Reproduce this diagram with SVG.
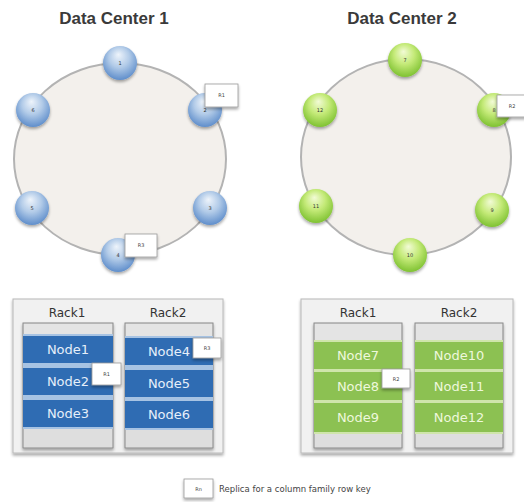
<svg xmlns="http://www.w3.org/2000/svg" width="524" height="502" viewBox="0 0 524 502">
<defs>
<radialGradient id="gBlue" cx="0.5" cy="0.4" r="0.6" fx="0.45" fy="0.25">
<stop offset="0" stop-color="#eef4fb"/>
<stop offset="0.5" stop-color="#b2cbe8"/>
<stop offset="1" stop-color="#5f8ecb"/>
</radialGradient>
<radialGradient id="gGreen" cx="0.5" cy="0.4" r="0.6" fx="0.45" fy="0.25">
<stop offset="0" stop-color="#f2fbd6"/>
<stop offset="0.5" stop-color="#c4ea78"/>
<stop offset="1" stop-color="#7fc232"/>
</radialGradient>
<filter id="sh" x="-30%" y="-30%" width="160%" height="160%">
<feGaussianBlur in="SourceAlpha" stdDeviation="1.5"/>
<feOffset dx="0" dy="1.5"/>
<feComponentTransfer><feFuncA type="linear" slope="0.35"/></feComponentTransfer>
<feMerge><feMergeNode/><feMergeNode in="SourceGraphic"/></feMerge>
</filter>
</defs>
<style>
.title{font-family:"Liberation Sans",Arial,sans-serif;font-size:17px;font-weight:bold;fill:#3a3a3a;text-anchor:middle}
.ring{fill:#f3f0ec;stroke:#b3b3b3;stroke-width:2}
.bn{fill:url(#gBlue);filter:url(#sh)}
.gn{fill:url(#gGreen);filter:url(#sh)}
.num{font-family:"DejaVu Sans",sans-serif;font-size:5px;fill:#333;text-anchor:middle}
.rep{fill:#ffffff;stroke:#9a9a9a;stroke-width:0.8;filter:url(#sh)}
.rept{font-family:"DejaVu Sans",sans-serif;font-size:5px;fill:#444;text-anchor:middle}
.panel{fill:#f1f1f1;stroke:#b8b8b8;stroke-width:1;filter:url(#sh)}
.rack{fill:#dedede;stroke:#8a8a8a;stroke-width:1;filter:url(#sh)}
.racklbl{font-family:"DejaVu Sans",sans-serif;font-size:12px;fill:#333;text-anchor:middle}
.top{fill:#e4e4e4}
.bband{fill:#2f6cb3}
.bsep{fill:#a7c3e3}
.gband{fill:#8cc152}
.gsep{fill:#cfe5ab}
.bt{font-family:"DejaVu Sans",sans-serif;font-size:13px;fill:#e6effa;text-anchor:middle}
.gt{font-family:"DejaVu Sans",sans-serif;font-size:13px;fill:#eef8dc;text-anchor:middle}
.legend{font-family:"DejaVu Sans",sans-serif;font-size:8.5px;fill:#444}
</style>

<text class="title" x="114" y="24">Data Center 1</text>
<text class="title" x="402" y="24">Data Center 2</text>

<g id="connectors">
<ellipse class="ring" cx="120" cy="159" rx="106" ry="96"/>
<ellipse class="ring" cx="406" cy="157" rx="105" ry="98"/>
</g>

<g id="dc1-node1"><circle class="bn" cx="120" cy="63" r="17"/><text class="num" x="120" y="65">1</text></g>
<g id="dc1-node2"><circle class="bn" cx="205" cy="110" r="17"/><text class="num" x="205" y="112">2</text></g>
<g id="dc1-node3"><circle class="bn" cx="210" cy="208" r="17"/><text class="num" x="210" y="210">3</text></g>
<g id="dc1-node4"><circle class="bn" cx="118" cy="255" r="17"/><text class="num" x="118" y="257">4</text></g>
<g id="dc1-node5"><circle class="bn" cx="32" cy="208" r="17"/><text class="num" x="32" y="210">5</text></g>
<g id="dc1-node6"><circle class="bn" cx="33" cy="110" r="17"/><text class="num" x="33" y="112">6</text></g>

<g id="dc2-node7"><circle class="gn" cx="405" cy="60" r="17"/><text class="num" x="405" y="62">7</text></g>
<g id="dc2-node8"><circle class="gn" cx="494" cy="110" r="17"/><text class="num" x="494" y="112">8</text></g>
<g id="dc2-node9"><circle class="gn" cx="492" cy="210" r="17"/><text class="num" x="492" y="212">9</text></g>
<g id="dc2-node10"><circle class="gn" cx="410" cy="255" r="17"/><text class="num" x="410" y="257">10</text></g>
<g id="dc2-node11"><circle class="gn" cx="316" cy="206" r="17"/><text class="num" x="316" y="208">11</text></g>
<g id="dc2-node12"><circle class="gn" cx="320" cy="110" r="17"/><text class="num" x="320" y="112">12</text></g>

<g id="ring-r1"><rect class="rep" x="205" y="84" width="33" height="23"/><text class="rept" x="221.5" y="97">R1</text></g>
<g id="ring-r3"><rect class="rep" x="125" y="234" width="32" height="23"/><text class="rept" x="141" y="247">R3</text></g>
<g id="ring-r2"><rect class="rep" x="497" y="95" width="30" height="22"/><text class="rept" x="512" y="108">R2</text></g>

<g id="dc1-racks">
<rect class="panel" x="13" y="299" width="210" height="154"/>
<text class="racklbl" x="67" y="317">Rack1</text>
<text class="racklbl" x="168" y="317">Rack2</text>
<g id="dc1-rack1">
<rect class="rack" x="23" y="323" width="90" height="125"/>
<rect class="top" x="24" y="324" width="88" height="10"/>
<rect class="bsep" x="23" y="334" width="90" height="2"/>
<g id="rack-node1"><rect class="bband" x="23" y="336" width="90" height="27"/><text class="bt" x="68" y="354">Node1</text></g>
<rect class="bsep" x="23" y="363" width="90" height="5"/>
<g id="rack-node2"><rect class="bband" x="23" y="368" width="90" height="27"/><text class="bt" x="68" y="386">Node2</text></g>
<rect class="bsep" x="23" y="395" width="90" height="5"/>
<g id="rack-node3"><rect class="bband" x="23" y="400" width="90" height="27"/><text class="bt" x="68" y="418">Node3</text></g>
<rect class="bsep" x="23" y="427" width="90" height="2"/>
</g>
<g id="dc1-rack2">
<rect class="rack" x="125" y="323" width="88" height="125"/>
<rect class="top" x="126" y="324" width="86" height="12"/>
<rect class="bsep" x="125" y="336" width="88" height="2"/>
<g id="rack-node4"><rect class="bband" x="125" y="338" width="88" height="27"/><text class="bt" x="169" y="356">Node4</text></g>
<rect class="bsep" x="125" y="365" width="88" height="5"/>
<g id="rack-node5"><rect class="bband" x="125" y="370" width="88" height="27"/><text class="bt" x="169" y="388">Node5</text></g>
<rect class="bsep" x="125" y="397" width="88" height="4"/>
<g id="rack-node6"><rect class="bband" x="125" y="401" width="88" height="27"/><text class="bt" x="169" y="419">Node6</text></g>
<rect class="bsep" x="125" y="428" width="88" height="2"/>
</g>
<g id="rack-r1"><rect class="rep" x="92" y="363" width="29" height="22"/><text class="rept" x="106.5" y="376">R1</text></g>
<g id="rack-r3"><rect class="rep" x="193" y="338" width="28" height="20"/><text class="rept" x="207" y="350">R3</text></g>
</g>

<g id="dc2-racks">
<rect class="panel" x="301" y="299" width="212" height="154"/>
<text class="racklbl" x="358" y="317">Rack1</text>
<text class="racklbl" x="459" y="317">Rack2</text>
<g id="dc2-rack1">
<rect class="rack" x="314" y="323" width="88" height="125"/>
<rect class="top" x="315" y="324" width="86" height="16"/>
<rect class="gsep" x="314" y="340" width="88" height="2"/>
<g id="rack-node7"><rect class="gband" x="314" y="342" width="88" height="27"/><text class="gt" x="358" y="360">Node7</text></g>
<rect class="gsep" x="314" y="369" width="88" height="3"/>
<g id="rack-node8"><rect class="gband" x="314" y="372" width="88" height="28"/><text class="gt" x="358" y="391">Node8</text></g>
<rect class="gsep" x="314" y="400" width="88" height="3"/>
<g id="rack-node9"><rect class="gband" x="314" y="403" width="88" height="29"/><text class="gt" x="358" y="422">Node9</text></g>
<rect class="gsep" x="314" y="432" width="88" height="2"/>
</g>
<g id="dc2-rack2">
<rect class="rack" x="415" y="323" width="88" height="125"/>
<rect class="top" x="416" y="324" width="86" height="16"/>
<rect class="gsep" x="415" y="340" width="88" height="2"/>
<g id="rack-node10"><rect class="gband" x="415" y="342" width="88" height="27"/><text class="gt" x="459" y="360">Node10</text></g>
<rect class="gsep" x="415" y="369" width="88" height="3"/>
<g id="rack-node11"><rect class="gband" x="415" y="372" width="88" height="28"/><text class="gt" x="459" y="391">Node11</text></g>
<rect class="gsep" x="415" y="400" width="88" height="3"/>
<g id="rack-node12"><rect class="gband" x="415" y="403" width="88" height="29"/><text class="gt" x="459" y="422">Node12</text></g>
<rect class="gsep" x="415" y="432" width="88" height="2"/>
</g>
<g id="rack-r2"><rect class="rep" x="382" y="369" width="28" height="19"/><text class="rept" x="396" y="381">R2</text></g>
</g>

<g id="legend">
<rect class="rep" x="184" y="479" width="29" height="19"/>
<text class="rept" x="198.5" y="491">Rn</text>
<text class="legend" x="219" y="492">Replica for a column family row key</text>
</g>
</svg>
